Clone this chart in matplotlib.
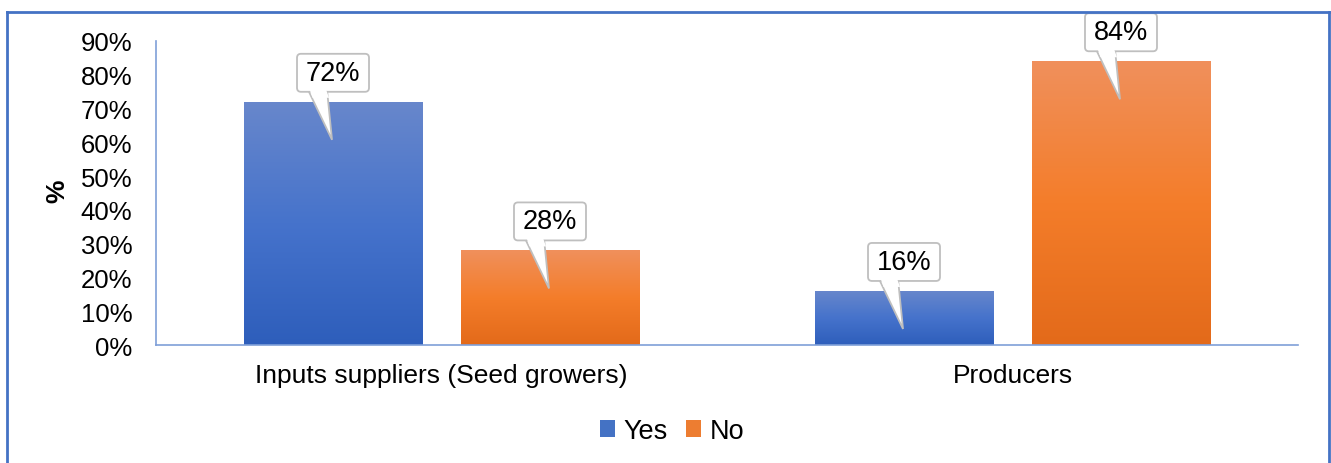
import matplotlib
matplotlib.use("Agg")
import matplotlib.pyplot as plt
import numpy as np
from matplotlib.colors import LinearSegmentedColormap
from matplotlib.patches import FancyBboxPatch, Polygon, Rectangle
from matplotlib.transforms import Affine2D
from matplotlib.lines import Line2D

plt.rcParams['font.family'] = ['Liberation Sans', 'DejaVu Sans']

categories = ["Inputs suppliers (Seed growers)", "Producers"]
series_names = ["Yes", "No"]
yes_values = [72, 16]
no_values = [28, 84]
yticks = [0, 10, 20, 30, 40, 50, 60, 70, 80, 90]

series_values = [yes_values, no_values]
gradients = [
    ["#2E5EBB", "#4673CC", "#6887CB"],   # blue: bottom, middle, top
    ["#E36A1A", "#F47D2A", "#F0905C"],   # orange: bottom, middle, top
]
legend_colors = ["#4472C4", "#ED7D31"]

W, H, DPI = 1331, 464, 100
fig = plt.figure(figsize=(W / DPI, H / DPI), dpi=DPI)
ax = fig.add_axes([156 / W, 1 - 346 / H, (1298 - 156) / W, (346 - 42) / H])

x = np.arange(len(categories))
bar_w = 0.312
offsets = [-0.19, 0.19]

ax.set_xlim(-0.5, len(categories) - 0.5)
ax.set_ylim(0, 90)

grad = np.linspace(0, 1, 256).reshape(-1, 1)
for vals, off, stops in zip(series_values, offsets, gradients):
    cmap = LinearSegmentedColormap.from_list("g", stops)
    bars = ax.bar(x + off, vals, width=bar_w, color="none", edgecolor="none", zorder=2)
    for b in bars:
        x0, y0 = b.get_x(), b.get_y()
        im = ax.imshow(grad, cmap=cmap, origin="lower", aspect="auto",
                       extent=[x0, x0 + b.get_width(), y0, y0 + b.get_height()],
                       zorder=2, interpolation="bicubic")
        im.set_clip_path(b)

ax.set_xlim(-0.5, len(categories) - 0.5)
ax.set_ylim(0, 90)

# Callout labels, laid out in pixel offsets from each bar's top centre
edge_c = "#BFBFBF"
bw, bh, gap = 72, 38, 10
for vals, off in zip(series_values, offsets):
    for xi, v in zip(x, vals):
        cx = xi + off
        anchor = ax.transData.transform((cx, v))
        pix = Affine2D().translate(*anchor)
        pts = np.array([(-25, gap + 2), (-6, gap + 2), (-1, -38)], dtype=float)
        pointer = Polygon(pts, closed=True, facecolor="white", edgecolor=edge_c,
                          linewidth=1.3, zorder=4, clip_on=False)
        ax.add_patch(pointer)
        pointer.set_transform(pix)
        box = FancyBboxPatch((-bw / 2 + 4, gap + 4), bw - 8, bh - 8,
                             boxstyle="round,pad=4", facecolor="white",
                             edgecolor=edge_c, linewidth=1.3, zorder=5, clip_on=False)
        ax.add_patch(box)
        box.set_transform(pix)
        cover = Polygon(np.array([(-23.6, gap + 3), (-7.2, gap + 3), (-4.0, gap - 6),
                                  (-20.5, gap - 6)]),
                        closed=True, facecolor="white", edgecolor="none", zorder=6,
                        clip_on=False)
        ax.add_patch(cover)
        cover.set_transform(pix)
        ax.text(anchor[0], anchor[1] + gap + bh / 2, f"{v}%", transform=None,
                ha="center", va="center", fontsize=19.5, color="black", zorder=7,
                clip_on=False)

ax.set_xticks(x)
ax.set_xticklabels(categories, fontsize=19)
ax.set_yticks(yticks)
ax.set_yticklabels([f"{t}%" for t in yticks], fontsize=18.5)
ax.tick_params(axis="both", length=0)
ax.tick_params(axis="y", pad=17)
ax.tick_params(axis="x", pad=13)
for s in ["top", "right"]:
    ax.spines[s].set_visible(False)
for s in ["left", "bottom"]:
    ax.spines[s].set_color("#7F9FD8")
    ax.spines[s].set_linewidth(1.2)
ax.set_ylabel("%", fontsize=19, fontweight="bold", va="center")
ax.yaxis.set_label_coords(-0.086, 0.51)

handles = [Rectangle((0, 0), 1, 1, facecolor=c, edgecolor="none") for c in legend_colors]
fig.legend(handles, series_names, loc="center", bbox_to_anchor=(672 / W, 1 - 432 / H),
           ncol=2, frameon=False, fontsize=19.5, handlelength=0.55, handleheight=0.55,
           handletextpad=0.3, columnspacing=0.7)

# outer border
border_c = "#4472C4"
fig.add_artist(Line2D([7 / W, 7 / W], [0, 1 - 13 / H], transform=fig.transFigure, color=border_c, lw=2))
fig.add_artist(Line2D([7 / W, 1329 / W], [1 - 13 / H, 1 - 13 / H], transform=fig.transFigure, color=border_c, lw=2))
fig.add_artist(Line2D([1329 / W, 1329 / W], [0, 1 - 13 / H], transform=fig.transFigure, color=border_c, lw=2))

fig.savefig("out.png", dpi=DPI)
